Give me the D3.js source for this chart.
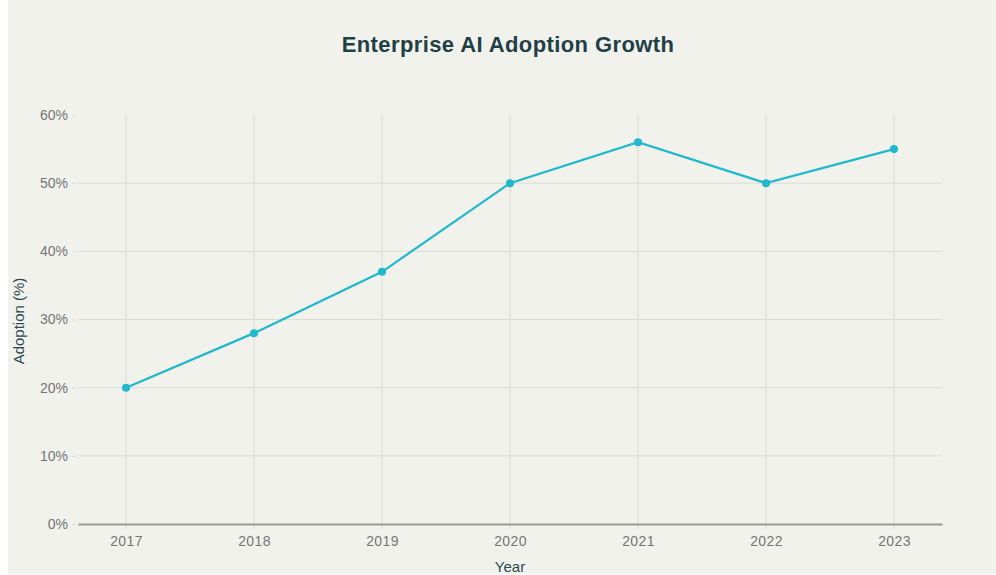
<!DOCTYPE html>
<html>
<head>
<meta charset="utf-8">
<script src="https://cdn.jsdelivr.net/npm/d3@7"></script>
<style>
	body { margin: 0; background: #ffffff; }
	svg { display: block; }
	text { font-family: "Liberation Sans", Arial, sans-serif; }
</style>
</head>
<body>
<div id="chart"></div>
<script>
//chart values
let years = ["2017", "2018", "2019", "2020", "2021", "2022", "2023"];
let adoption = [20, 28, 37, 50, 56, 50, 55];
let yTicks = [0, 10, 20, 30, 40, 50, 60];

let width = 996;
let height = 575;
let margin = {top: 115, right: 54, bottom: 51, left: 78};

let svg = d3.select("#chart")
	.append("svg")
	.attr("width", width)
	.attr("height", height);

//background panel
svg.append("rect")
	.attr("x", 8)
	.attr("y", 0)
	.attr("width", width - 8)
	.attr("height", 574)
	.attr("fill", "#f2f2ed");

//scales
const xScale = d3.scalePoint()
	.domain(years)
	.range([margin.left, width - margin.right])
	.padding(0.375);

const yScale = d3.scaleLinear()
	.domain([0, 60])
	.range([height - margin.bottom, margin.top]);

//grid
svg.append("g")
	.selectAll("line")
	.data(years)
	.join("line")
	.attr("x1", d => xScale(d))
	.attr("x2", d => xScale(d))
	.attr("y1", margin.top)
	.attr("y2", height - margin.bottom + 6)
	.attr("stroke", "#dcdcd6")
	.attr("stroke-width", 1);

svg.append("g")
	.selectAll("line")
	.data(yTicks.slice(1))
	.join("line")
	.attr("x1", margin.left)
	.attr("x2", width - margin.right)
	.attr("y1", d => yScale(d))
	.attr("y2", d => yScale(d))
	.attr("stroke", d => d === 60 ? "none" : "#dcdcd6")
	.attr("stroke-width", 1);

//y axis
const yAxis = d3.axisLeft(yScale)
	.tickValues(yTicks)
	.tickFormat(d => d + "%")
	.tickSize(4)
	.tickPadding(4);

let gy = svg.append("g")
	.attr("transform", `translate(${margin.left - 2},0)`)
	.call(yAxis);
gy.select(".domain").remove();
gy.selectAll(".tick line").attr("stroke", "#dcdcd6");
gy.selectAll("text")
	.attr("fill", "#757575")
	.attr("font-size", 14);

//x axis
const xAxis = d3.axisBottom(xScale)
	.tickSize(0)
	.tickPadding(12);

let gx = svg.append("g")
	.attr("transform", `translate(0,${height - margin.bottom})`)
	.call(xAxis);
gx.select(".domain")
	.attr("stroke", "#999996")
	.attr("stroke-width", 2);
gx.selectAll("text")
	.attr("fill", "#757575")
	.attr("font-size", 14)
	.attr("letter-spacing", 0.4);

//line
let line = d3.line()
	.x((d, i) => xScale(years[i]))
	.y(d => yScale(d));

svg.append("path")
	.datum(adoption)
	.attr("d", line)
	.attr("fill", "none")
	.attr("stroke", "#1fb8cd")
	.attr("stroke-width", 2.2);

svg.append("g")
	.selectAll("circle")
	.data(adoption)
	.join("circle")
	.attr("cx", (d, i) => xScale(years[i]))
	.attr("cy", d => yScale(d))
	.attr("r", 4)
	.attr("fill", "#1fb8cd");

//titles
svg.append("text")
	.attr("x", 508)
	.attr("y", 52)
	.attr("text-anchor", "middle")
	.attr("font-size", 22)
	.attr("font-weight", "bold")
	.attr("letter-spacing", 0.4)
	.attr("fill", "#1f3f46")
	.text("Enterprise AI Adoption Growth");

svg.append("text")
	.attr("x", 510)
	.attr("y", 572)
	.attr("text-anchor", "middle")
	.attr("font-size", 15)
	.attr("fill", "#2b4a50")
	.text("Year");

svg.append("text")
	.attr("transform", "translate(24,321) rotate(-90)")
	.attr("text-anchor", "middle")
	.attr("font-size", 15)
	.attr("fill", "#2b4a50")
	.text("Adoption (%)");
</script>
</body>
</html>
